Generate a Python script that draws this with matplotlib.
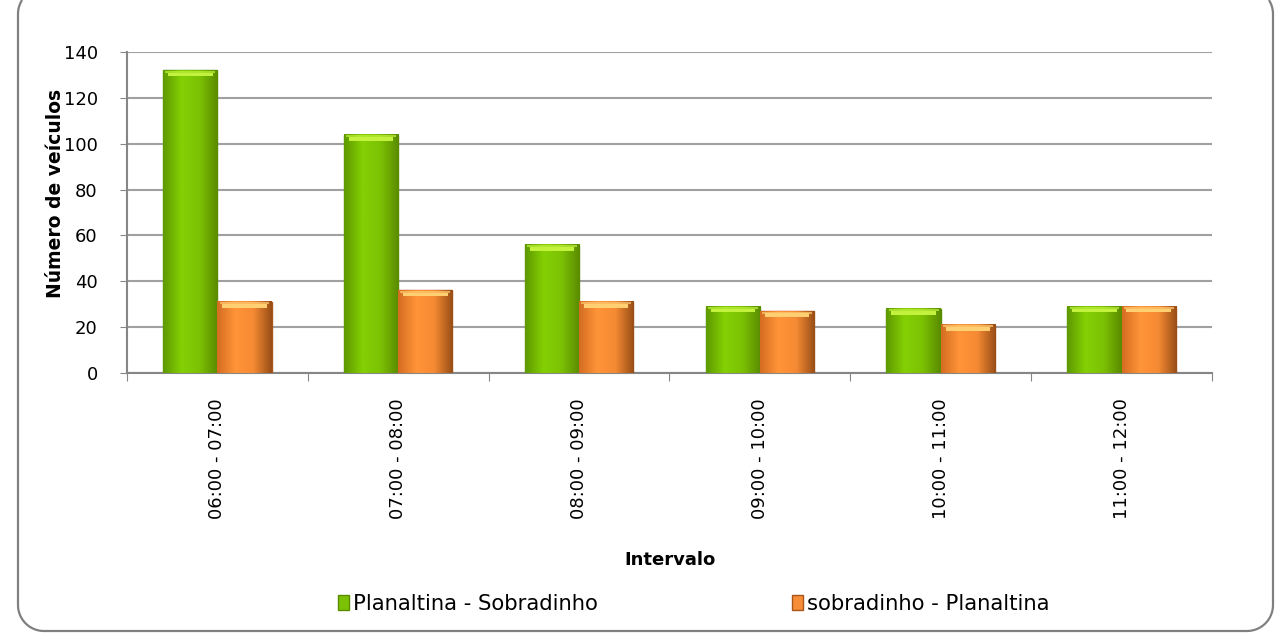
import numpy as np
import matplotlib.pyplot as plt
from matplotlib.lines import Line2D
from matplotlib.colors import LinearSegmentedColormap

intervals = ['06:00 - 07:00', '07:00 - 08:00', '08:00 - 09:00',
             '09:00 - 10:00', '10:00 - 11:00', '11:00 - 12:00']
plan_sobr = [132, 104, 56, 29, 28, 29]
sobr_plan = [31, 36, 31, 27, 21, 29]

plt.rcParams['font.family'] = ['DejaVu Sans']

W, H = 1287, 634
fig = plt.figure(figsize=(W/100, H/100), dpi=100)
ax = fig.add_axes([127/W, 1 - 373/H, (1212-127)/W, (373-52)/H])

# rounded frame round the whole chart (pixel coords); its top edge sits just
# above the picture, so keep only the part that is inside it
def rounded_frame(x0, y0, x1, y1, r):
    t = np.linspace(0, np.pi/2, 25)
    xs, ys = [], []
    for cx, cy, a0 in ((x0 + r, y1 - r, np.pi/2), (x0 + r, y0 + r, np.pi),
                       (x1 - r, y0 + r, 1.5*np.pi), (x1 - r, y1 - r, 0)):
        xs += list(cx + r*np.cos(a0 + t))
        ys += list(cy + r*np.sin(a0 + t))
    xs, ys = np.array(xs), np.array(ys)
    keep = ys <= H
    return xs[keep]/W, ys[keep]/H

fx, fy = rounded_frame(18, 3, 1273, 646, 26)
fig.add_artist(Line2D(fx, fy, transform=fig.transFigure, color='#808080', lw=1.6))

x = np.arange(len(intervals))
w = 0.3
b1 = ax.bar(x - w/2, plan_sobr, w, color='#7cc204', edgecolor='#5a8c00',
            linewidth=1.0, label='Planaltina - Sobradinho', zorder=3)
b2 = ax.bar(x + w/2, sobr_plan, w, color='#f78d37', edgecolor='#a8561a',
            linewidth=1.0, label='sobradinho - Planaltina', zorder=3)

# shading across each bar + light strip at the top
green = LinearSegmentedColormap.from_list('g', ['#5f9a00', '#84d004', '#7cc204', '#5a8c00'])
orange = LinearSegmentedColormap.from_list('o', ['#d56e22', '#ff9438', '#f58a34', '#9a4f16'])
grad = np.linspace(0, 1, 50).reshape(1, -1)
for bars, cm, c in ((b1, green, '#c2f23e'), (b2, orange, '#ffcf72')):
    for r in bars:
        x0, h, bw = r.get_x(), r.get_height(), r.get_width()
        ax.imshow(grad, cmap=cm, aspect='auto', extent=(x0, x0 + bw, 0, h),
                  zorder=3.5, interpolation='bicubic')
        ax.bar(x0 + bw/2, 1.6, bw*0.82, bottom=h - 2.6, color=c, zorder=4, linewidth=0)
        ax.bar(x0 + bw/2, 0.9, bw*0.92, bottom=h - 1.1, color=c, zorder=4,
               linewidth=0, alpha=0.7)

ax.set_xlim(-0.5, len(intervals) - 0.5)
ax.set_ylim(0, 140)
ax.set_yticks(range(0, 141, 20))
ax.set_xticks(np.arange(len(intervals) + 1) - 0.5, minor=False)
ax.set_xticklabels([])
ax.set_xticks(x, minor=True)
ax.set_xticklabels(intervals, minor=True, rotation=90, fontsize=13)
ax.tick_params(axis='x', which='minor', length=0, pad=18)
ax.tick_params(axis='x', which='major', length=6, color='#868686', direction='out')
ax.tick_params(axis='y', length=5, color='#868686', labelsize=13, pad=16)
ax.grid(axis='y', color='#a0a0a0', linewidth=1.5, zorder=0)
for s in ('top', 'right'):
    ax.spines[s].set_visible(False)
for s in ('left', 'bottom'):
    ax.spines[s].set_color('#868686')
    ax.spines[s].set_linewidth(1.5)

ax.set_ylabel('Número de veículos', fontsize=13.5, fontweight='bold')
ax.yaxis.set_label_coords(-0.057, 0.56)
ax.set_xlabel('Intervalo', fontsize=13, fontweight='bold')
ax.xaxis.set_label_coords(0.5, -0.555)

fig.legend(handles=[b1, b2], loc='center', bbox_to_anchor=(0.539, 0.047),
           ncol=2, frameon=False, fontsize=15.2, handlelength=0.5,
           handleheight=0.72, handletextpad=0.2, columnspacing=9.2)

fig.savefig('out.png', dpi=100)
